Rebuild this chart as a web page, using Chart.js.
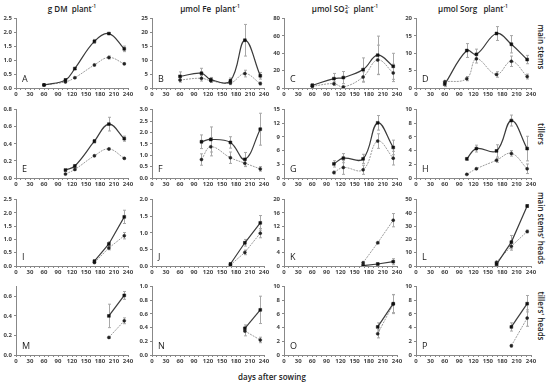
<!DOCTYPE html>
<html>
<head>
<meta charset="utf-8">
<script src="https://cdn.jsdelivr.net/npm/chart.js@4"></script>
<style>
  body { margin: 0; background: #fff; }
  #page { position: relative; width: 550px; height: 383px; overflow: hidden; font-family: "Open Sans", sans-serif; color: #222; }
  .panel { position: absolute; }
  .title { position: absolute; top: 3px; font-size: 8px; font-weight: 600; white-space: nowrap; transform: translateX(-50%); }
  .title sup { font-size: 5px; }
  .stack { display: inline-block; vertical-align: middle; line-height: 5px; font-size: 5px; margin-left: 0.5px; }
  .side { position: absolute; left: 541px; font-size: 8px; font-weight: 600; white-space: nowrap; transform: translate(-50%, -50%) rotate(90deg); }
  .xlab { position: absolute; left: 272px; top: 371px; font-size: 8px; font-weight: 600; transform: translateX(-50%); white-space: nowrap; }
</style>
</head>
<body>
<div id="page">
  <div class="title" style="left:72px">g DM&nbsp; plant<sup>-1</sup></div>
  <div class="title" style="left:210px">µmol Fe&nbsp; plant<sup>-1</sup></div>
  <div class="title" style="left:345px">µmol SO<span class="stack">2-<br>4</span>&nbsp; plant<sup>-1</sup></div>
  <div class="title" style="left:473px">µmol Sorg&nbsp;&nbsp; plant<sup>-1</sup></div>
  <div class="side" style="top:47px">main stems</div>
  <div class="side" style="top:134px">tillers</div>
  <div class="side" style="top:228px">main stems' heads</div>
  <div class="side" style="top:316px">tillers' heads</div>
  <div class="xlab">days after sowing</div>
</div>
<script>
// sampling days per row
const daysRow1 = [60, 106, 126, 168, 199, 232];
const daysRow2 = [106, 126, 168, 199, 232];
const daysRow3 = [168, 199, 232];
const daysRow4 = [199, 232];
const xTicks = [0, 30, 60, 90, 120, 150, 180, 210, 240];

// main stems
const solidA = [0.11, 0.29, 0.70, 1.68, 1.96, 1.41];
const solidErrA = [0.02, 0.03, 0.04, 0.07, 0.03, 0.1];
const dottedA = [0.11, 0.22, 0.37, 0.83, 1.10, 0.87];
const dottedErrA = [0.01, 0.02, 0.02, 0.03, 0.05, 0.03];

const solidB = [4.2, 5.3, 3.0, 2.6, 17.2, 4.4];
const solidErrB = [1.6, 1.8, 0.8, 1.0, 5.7, 1.2];
const dottedB = [2.9, 3.5, 2.6, 1.8, 5.2, 1.6];
const dottedErrB = [0.8, 1.0, 0.6, 0.6, 1.2, 0.5];

const solidC = [3.1, 10.8, 12.0, 21.2, 37.8, 25.0];
const solidErrC = [2, 6, 7, 13.5, 22, 15];
const dottedC = [2.0, 5.0, 1.2, 12.7, 32.4, 17.4];
const dottedErrC = [1, 2, 1, 6, 17, 10];

const solidD = [1.1, 10.8, 9.7, 15.7, 12.6, 8.2];
const solidErrD = [0.7, 2, 1.5, 2, 2.5, 1.2];
const dottedD = [1.8, 2.7, 8.4, 3.9, 7.7, 3.3];
const dottedErrD = [0.4, 0.6, 1.2, 0.8, 1.5, 0.7];

// tillers
const solidE = [0.093, 0.14, 0.43, 0.63, 0.46];
const solidErrE = [0.01, 0.015, 0.02, 0.08, 0.03];
const dottedE = [0.046, 0.10, 0.26, 0.34, 0.23];
const dottedErrE = [0.005, 0.01, 0.01, 0.01, 0.01];

const solidF = [1.59, 1.69, 1.56, 0.82, 2.14];
const solidErrF = [0.3, 0.55, 0.25, 0.3, 0.7];
const dottedF = [0.81, 1.37, 0.89, 0.65, 0.40];
const dottedErrF = [0.25, 0.4, 0.25, 0.15, 0.1];

const solidG = [3.1, 4.35, 4.2, 12.1, 6.7];
const solidErrG = [0.7, 1.0, 1.0, 1.6, 1.6];
const dottedG = [1.2, 2.3, 1.8, 8.1, 4.35];
const dottedErrG = [0.3, 1.5, 1.0, 1.6, 1.5];

const solidH = [2.8, 4.3, 3.96, 8.4, 4.3];
const solidErrH = [0.2, 0.5, 0.9, 0.8, 1.8];
const dottedH = [0.53, 1.35, 2.6, 3.6, 1.35];
const dottedErrH = [0.05, 0.1, 0.3, 0.4, 0.7];

// main stems' heads
const solidI = [0.18, 0.83, 1.85];
const solidErrI = [0.05, 0.08, 0.25];
const dottedI = [0.13, 0.68, 1.14];
const dottedErrI = [0.03, 0.07, 0.12];

const solidJ = [0.06, 0.70, 1.30];
const solidErrJ = [0.03, 0.1, 0.22];
const dottedJ = [0.03, 0.41, 0.99];
const dottedErrJ = [0.02, 0.07, 0.14];

const solidK = [0.1, 0.6, 1.3];
const solidErrK = [0.1, 0.2, 0.9];
const dottedK = [1.0, 7.0, 13.8];
const dottedErrK = [0.3, 0.3, 2];

const solidL = [1.2, 18, 45.2];
const solidErrL = [0.5, 5, 1];
const dottedL = [2.9, 14.9, 26];
const dottedErrL = [0.5, 3, 1];

// tillers' heads
const solidM = [0.40, 0.61];
const solidErrM = [0.12, 0.04];
const dottedM = [0.18, 0.35];
const dottedErrM = [0.01, 0.03];

const solidN = [0.39, 0.66];
const solidErrN = [0.05, 0.2];
const dottedN = [0.35, 0.22];
const dottedErrN = [0.07, 0.04];

const solidO = [4.1, 7.5];
const solidErrO = [0.6, 1.3];
const dottedO = [3.1, 7.45];
const dottedErrO = [0.6, 1.4];

const solidP = [4.1, 7.5];
const solidErrP = [0.6, 1.2];
const dottedP = [1.35, 5.4];
const dottedErrP = [0.2, 1.2];

// plot area edges on the page
const COLS = [[16, 128], [152, 264], [284, 397], [416, 531]];
const ROWS = [[18, 88], [109, 178], [199, 266], [286, 355]];
const PAD_L = 18, PAD_T = 5, PAD_R = 8, PAD_B = 11;

const PANELS = [
  { id: 'A', col: 0, row: 0, days: daysRow1, solid: solidA, solidErr: solidErrA, dotted: dottedA, dottedErr: dottedErrA, max: 2.5, step: 0.5, dec: 1 },
  { id: 'B', col: 1, row: 0, days: daysRow1, solid: solidB, solidErr: solidErrB, dotted: dottedB, dottedErr: dottedErrB, max: 25, step: 5, dec: 0 },
  { id: 'C', col: 2, row: 0, days: daysRow1, solid: solidC, solidErr: solidErrC, dotted: dottedC, dottedErr: dottedErrC, max: 80, step: 20, dec: 0 },
  { id: 'D', col: 3, row: 0, days: daysRow1, solid: solidD, solidErr: solidErrD, dotted: dottedD, dottedErr: dottedErrD, max: 20, step: 5, dec: 0 },
  { id: 'E', col: 0, row: 1, days: daysRow2, solid: solidE, solidErr: solidErrE, dotted: dottedE, dottedErr: dottedErrE, max: 0.8, step: 0.2, dec: 1 },
  { id: 'F', col: 1, row: 1, days: daysRow2, solid: solidF, solidErr: solidErrF, dotted: dottedF, dottedErr: dottedErrF, max: 3.0, step: 0.5, dec: 1 },
  { id: 'G', col: 2, row: 1, days: daysRow2, solid: solidG, solidErr: solidErrG, dotted: dottedG, dottedErr: dottedErrG, max: 15, step: 3, dec: 0 },
  { id: 'H', col: 3, row: 1, days: daysRow2, solid: solidH, solidErr: solidErrH, dotted: dottedH, dottedErr: dottedErrH, max: 10, step: 2, dec: 0 },
  { id: 'I', col: 0, row: 2, days: daysRow3, solid: solidI, solidErr: solidErrI, dotted: dottedI, dottedErr: dottedErrI, max: 2.5, step: 0.5, dec: 1 },
  { id: 'J', col: 1, row: 2, days: daysRow3, solid: solidJ, solidErr: solidErrJ, dotted: dottedJ, dottedErr: dottedErrJ, max: 2.0, step: 0.5, dec: 1 },
  { id: 'K', col: 2, row: 2, days: daysRow3, solid: solidK, solidErr: solidErrK, dotted: dottedK, dottedErr: dottedErrK, max: 20, step: 4, dec: 0 },
  { id: 'L', col: 3, row: 2, days: daysRow3, solid: solidL, solidErr: solidErrL, dotted: dottedL, dottedErr: dottedErrL, max: 50, step: 10, dec: 0 },
  { id: 'M', col: 0, row: 3, days: daysRow4, solid: solidM, solidErr: solidErrM, dotted: dottedM, dottedErr: dottedErrM, max: 0.7, step: 0.1, dec: 1 },
  { id: 'N', col: 1, row: 3, days: daysRow4, solid: solidN, solidErr: solidErrN, dotted: dottedN, dottedErr: dottedErrN, max: 1.0, step: 0.2, dec: 1 },
  { id: 'O', col: 2, row: 3, days: daysRow4, solid: solidO, solidErr: solidErrO, dotted: dottedO, dottedErr: dottedErrO, max: 10, step: 2, dec: 0 },
  { id: 'P', col: 3, row: 3, days: daysRow4, solid: solidP, solidErr: solidErrP, dotted: dottedP, dottedErr: dottedErrP, max: 10, step: 2, dec: 0 },
];

// vertical error bars drawn through the chart scales
const errorBars = {
  id: 'errorBars',
  beforeDatasetsDraw(chart) {
    const { ctx, scales: { x, y } } = chart;
    ctx.save();
    ctx.strokeStyle = '#a8a8a8';
    ctx.lineWidth = 1;
    chart.data.datasets.forEach((ds) => {
      ds.data.forEach((p, i) => {
        const e = ds.errors[i];
        const px = Math.round(x.getPixelForValue(p.x)) + 0.5;
        const top = y.getPixelForValue(p.y + e);
        const bot = y.getPixelForValue(Math.max(0, p.y - e));
        ctx.beginPath();
        ctx.moveTo(px, top); ctx.lineTo(px, bot);
        ctx.moveTo(px - 1.5, top); ctx.lineTo(px + 1.5, top);
        ctx.moveTo(px - 1.5, bot); ctx.lineTo(px + 1.5, bot);
        ctx.stroke();
      });
    });
    ctx.restore();
  }
};

const panelLetter = {
  id: 'panelLetter',
  afterDraw(chart, args, opts) {
    const { ctx, chartArea } = chart;
    ctx.save();
    ctx.font = '9px "Open Sans"';
    ctx.fillStyle = '#222';
    ctx.textBaseline = 'alphabetic';
    ctx.fillText(opts.text, chartArea.left + 6, chartArea.bottom - 6);
    ctx.restore();
  }
};

const tickFont = { family: 'Open Sans', size: 6, weight: 'bold' };

const makePanel = (p) => {
  const [l, r] = COLS[p.col];
  const [t, b] = ROWS[p.row];
  const w = r - l + PAD_L + PAD_R;
  const h = b - t + PAD_T + PAD_B;
  const div = document.createElement('div');
  div.className = 'panel';
  div.style.left = (l - PAD_L) + 'px';
  div.style.top = (t - PAD_T) + 'px';
  const canvas = document.createElement('canvas');
  canvas.width = w;
  canvas.height = h;
  div.appendChild(canvas);
  document.getElementById('page').appendChild(div);

  const tension = p.row < 2 ? 0.4 : 0;
  return new Chart(canvas, {
    type: 'line',
    data: {
      datasets: [{
        data: p.days.map((d, i) => ({ x: d, y: p.solid[i] })),
        errors: p.solidErr,
        borderColor: '#3c3c3c',
        borderWidth: 1.2,
        pointStyle: 'rect',
        pointRadius: 2,
        pointBackgroundColor: '#111',
        pointBorderColor: '#111',
        pointBorderWidth: 0.5,
        tension: tension,
        fill: false
      }, {
        data: p.days.map((d, i) => ({ x: d, y: p.dotted[i] })),
        errors: p.dottedErr,
        borderColor: '#9c9c9c',
        borderWidth: 1,
        borderDash: [2, 1],
        pointStyle: 'circle',
        pointRadius: 1.5,
        pointBackgroundColor: '#222',
        pointBorderColor: '#222',
        pointBorderWidth: 0.5,
        tension: tension,
        fill: false
      }]
    },
    options: {
      responsive: false,
      devicePixelRatio: 1,
      animation: false,
      events: [],
      layout: { padding: { top: PAD_T, right: PAD_R, left: 0, bottom: 0 } },
      plugins: {
        legend: { display: false },
        tooltip: { enabled: false },
        panelLetter: { text: p.id }
      },
      scales: {
        x: {
          type: 'linear',
          min: 0,
          max: 240,
          afterFit: (s) => { s.height = PAD_B; },
          border: { color: '#888', width: 1 },
          grid: { drawOnChartArea: false, color: '#888', tickLength: 2 },
          ticks: {
            stepSize: 10,
            autoSkip: false,
            maxRotation: 0,
            padding: 1,
            font: tickFont,
            color: '#444',
            callback: (v) => (xTicks.includes(v) ? String(v) : '')
          }
        },
        y: {
          min: 0,
          max: p.max,
          afterFit: (s) => { s.width = PAD_L; },
          border: { color: '#888', width: 1 },
          grid: { drawOnChartArea: false, color: '#888', tickLength: 2 },
          ticks: {
            stepSize: p.step,
            padding: 2,
            font: tickFont,
            color: '#444',
            callback: (v) => v.toFixed(p.dec)
          }
        }
      }
    },
    plugins: [errorBars, panelLetter]
  });
};

PANELS.forEach(makePanel);
</script>
</body>
</html>
